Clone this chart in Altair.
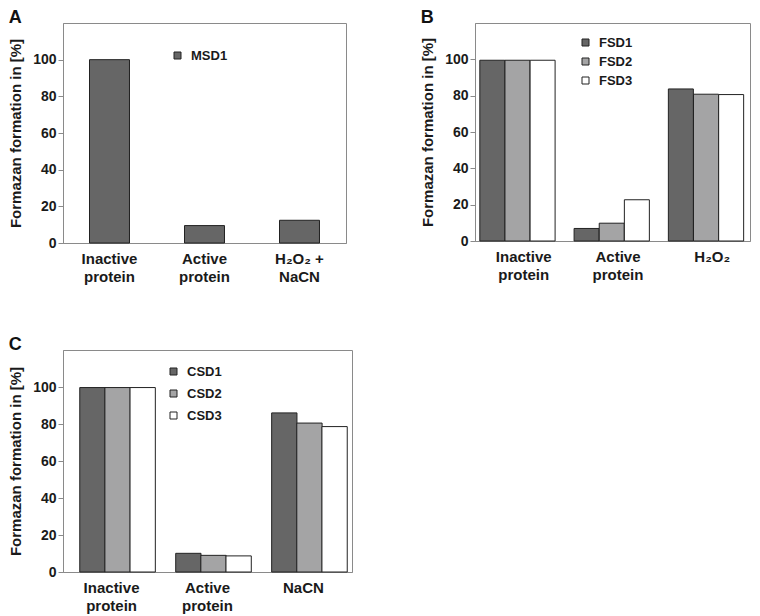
import altair as alt
import pandas as pd

# ---------------- data ----------------
cats_A = ["Inactive protein", "Active protein", "H₂O₂ + NaCN"]
series_A = ["MSD1"]
msd1 = [100, 9.5, 12.4]

cats_B = ["Inactive protein", "Active protein", "H₂O₂"]
series_B = ["FSD1", "FSD2", "FSD3"]
fsd1 = [99.5, 6.9, 83.7]
fsd2 = [99.5, 9.8, 80.8]
fsd3 = [99.5, 22.7, 80.6]

cats_C = ["Inactive protein", "Active protein", "NaCN"]
series_C = ["CSD1", "CSD2", "CSD3"]
csd1 = [99.7, 10.1, 86.0]
csd2 = [99.7, 9.0, 80.5]
csd3 = [99.7, 8.7, 78.6]

y_ticks = [0, 20, 40, 60, 80, 100]
y_title = "Formazan formation in [%]"
colors3 = ["#666666", "#a4a4a5", "#ffffff"]


def make_df(cats, series, values):
    rows = []
    for s, vals in zip(series, values):
        for c, v in zip(cats, vals):
            rows.append({"cat": c, "series": s, "value": v})
    return pd.DataFrame(rows)


dfA = make_df(cats_A, series_A, [msd1])
dfB = make_df(cats_B, series_B, [fsd1, fsd2, fsd3])
dfC = make_df(cats_C, series_C, [csd1, csd2, csd3])

FONT = "Liberation Sans"
TXT = "#1a1a1a"
GRAY = "#8a8a8a"


def y_axis():
    return alt.Axis(
        title=y_title, values=y_ticks, grid=False,
        titleFont=FONT, titleFontSize=15, titleFontWeight="bold", titleColor=TXT,
        titlePadding=9,
        labelFont=FONT, labelFontSize=14, labelFontWeight="bold", labelColor=TXT,
        labelPadding=2, tickSize=5, tickColor=GRAY, domainColor=GRAY,
    )


def x_axis():
    return alt.Axis(
        title=None, labelAngle=0, ticks=False, domainColor=GRAY,
        labelFont=FONT, labelFontSize=15, labelFontWeight="bold", labelColor=TXT,
        labelPadding=8, labelLineHeight=18,
        labelExpr="datum.label == 'H₂O₂ + NaCN' ? ['H₂O₂ +', 'NaCN'] : split(datum.label, ' ')",
    )


def legend(x, y, row_pad):
    return alt.Legend(
        title=None, orient="none", legendX=x, legendY=y, padding=0,
        symbolType="square", symbolSize=49, symbolStrokeColor="#222222",
        symbolStrokeWidth=1, labelFont=FONT, labelFontSize=13,
        labelFontWeight="bold", labelColor=TXT, labelOffset=7, rowPadding=row_pad,
    )


def letter(t):
    return alt.TitleParams(t, anchor="start", frame="bounds", font=FONT, fontSize=18,
                           fontWeight="bold", color="#111111", offset=-4)


chartA = alt.Chart(dfA).mark_bar(stroke="#222222", strokeWidth=1).encode(
    x=alt.X("cat:N", sort=cats_A, axis=x_axis(),
            scale=alt.Scale(paddingInner=0.579, paddingOuter=0.279)),
    y=alt.Y("value:Q", axis=y_axis(), scale=alt.Scale(domain=[0, 120])),
    color=alt.Color("series:N", scale=alt.Scale(domain=series_A, range=colors3[:1]),
                    legend=legend(108, 26, 6)),
).properties(width=283, height=220, title=letter("A"))

chartB = alt.Chart(dfB).mark_bar(stroke="#222222", strokeWidth=1, width=25).encode(
    x=alt.X("cat:N", sort=cats_B, axis=x_axis(),
            scale=alt.Scale(paddingInner=0.2, paddingOuter=0.0585, align=1)),
    xOffset=alt.XOffset("series:N", sort=series_B),
    y=alt.Y("value:Q", axis=y_axis(), scale=alt.Scale(domain=[0, 120])),
    color=alt.Color("series:N", sort=series_B,
                    scale=alt.Scale(domain=series_B, range=colors3),
                    legend=legend(104, 13, 5)),
).properties(width=275, height=218, title=letter("B"))

chartC = alt.Chart(dfC).mark_bar(stroke="#222222", strokeWidth=1, width=25.3).encode(
    x=alt.X("cat:N", sort=cats_C, axis=x_axis(),
            scale=alt.Scale(paddingInner=0.208, paddingOuter=0.11)),
    xOffset=alt.XOffset("series:N", sort=series_C),
    y=alt.Y("value:Q", axis=y_axis(), scale=alt.Scale(domain=[0, 120])),
    color=alt.Color("series:N", sort=series_C,
                    scale=alt.Scale(domain=series_C, range=colors3),
                    legend=legend(104, 15, 8)),
).properties(width=289, height=222, title=letter("C"))

chart = alt.vconcat(
    alt.hconcat(chartA, chartB, spacing=73).resolve_scale(color="independent"),
    chartC, spacing=50,
).resolve_scale(color="independent").properties(
    padding={"left": 0, "top": 0, "right": 0, "bottom": 0}
).configure_view(stroke=GRAY, strokeWidth=1)

chart.save("out.html", embed_options={"renderer": "svg", "actions": False})
